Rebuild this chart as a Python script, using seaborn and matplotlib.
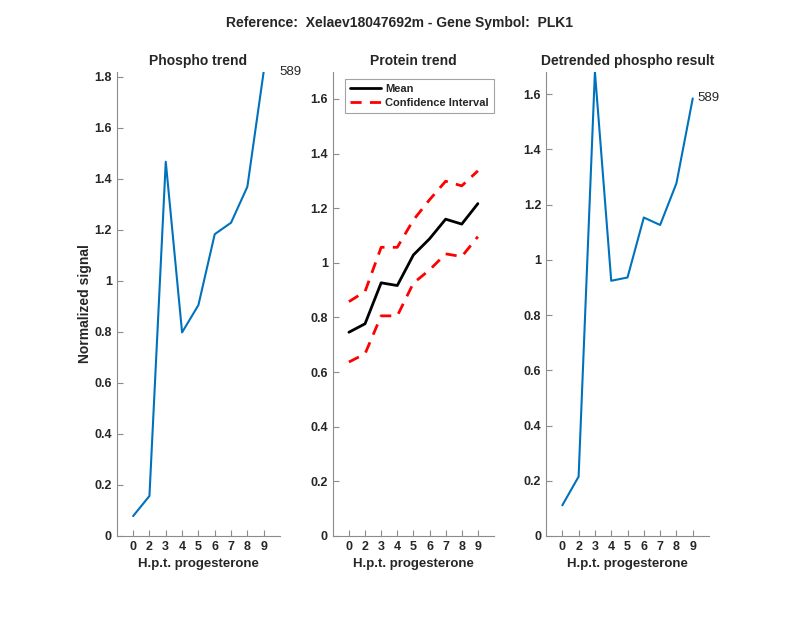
import matplotlib
matplotlib.use("Agg")
import matplotlib.pyplot as plt
import pandas as pd
import seaborn as sb

# data
hours = ["0", "2", "3", "4", "5", "6", "7", "8", "9"]
phospho = [0.078, 0.157, 1.467, 0.798, 0.905, 1.183, 1.228, 1.369, 1.82]
protein_mean = [0.746, 0.777, 0.927, 0.917, 1.029, 1.088, 1.160, 1.142, 1.217]
protein_upper = [0.858, 0.895, 1.057, 1.057, 1.157, 1.231, 1.299, 1.282, 1.337]
protein_lower = [0.637, 0.667, 0.806, 0.806, 0.926, 0.974, 1.033, 1.023, 1.096]
detrended = [0.111, 0.215, 1.681, 0.924, 0.936, 1.153, 1.126, 1.277, 1.584]
peptide_id = "589"

sb.set_style("white")
plt.rcParams['font.family'] = ['Liberation Sans', 'DejaVu Sans']
plt.rcParams['font.weight'] = 'bold'

pos = list(range(1, len(hours) + 1))
df = pd.DataFrame({'pos': pos, 'phospho': phospho, 'mean': protein_mean,
                   'upper': protein_upper, 'lower': protein_lower,
                   'detr': detrended})

blue = '#0072BD'
axcol = '#262626'

fig = plt.figure(figsize=(8, 6.18), dpi=100)
ax1 = fig.add_axes([0.146, 0.1327, 0.204, 0.7513])
ax2 = fig.add_axes([0.416, 0.1327, 0.2015, 0.7513])
ax3 = fig.add_axes([0.6825, 0.1327, 0.2038, 0.7513])


def style(ax, ylim, yticks):
    ax.set_xlim(0, 10)
    ax.set_ylim(*ylim)
    ax.set_xticks(pos)
    ax.set_xticklabels(hours)
    ax.set_yticks(yticks)
    ax.set_yticklabels(['%g' % t for t in yticks])
    for s in ['top', 'right']:
        ax.spines[s].set_visible(False)
    for s in ['left', 'bottom']:
        ax.spines[s].set_color('#8c8c8c')
        ax.spines[s].set_linewidth(0.8)
    ax.tick_params(direction='in', length=4, width=0.8, color='#8c8c8c',
                   labelsize=9, labelcolor=axcol, left=True, bottom=True)
    ax.set_xlabel('H.p.t. progesterone', fontsize=9.5, fontweight='bold', color=axcol)
    ax.set_ylabel('')


# panel 1
sb.lineplot(data=df, x='pos', y='phospho', ax=ax1, color=blue, linewidth=1.5)
style(ax1, (0, 1.82), [0, 0.2, 0.4, 0.6, 0.8, 1, 1.2, 1.4, 1.6, 1.8])
ax1.set_ylabel('Normalized signal', fontsize=10, fontweight='bold', color=axcol,
               labelpad=2)
ax1.set_title('Phospho trend', fontsize=10, fontweight='bold', pad=5)
ax1.text(pos[-1] + 0.95, phospho[-1], peptide_id, fontsize=9.5, fontweight='normal',
         va='center', ha='left')

# panel 2
sb.lineplot(data=df, x='pos', y='mean', ax=ax2, color='black', linewidth=2, label='Mean')
sb.lineplot(data=df, x='pos', y='upper', ax=ax2, color='red', linewidth=2,
            linestyle=(0, (4, 3)), label='Confidence Interval')
sb.lineplot(data=df, x='pos', y='lower', ax=ax2, color='red', linewidth=2,
            linestyle=(0, (4, 3)))
style(ax2, (0, 1.7), [0, 0.2, 0.4, 0.6, 0.8, 1, 1.2, 1.4, 1.6])
ax2.set_title('Protein trend', fontsize=10, fontweight='bold', pad=5)
leg = ax2.legend(loc='upper left', bbox_to_anchor=(0.075, 0.985), fontsize=8,
                 frameon=True, fancybox=False, handlelength=2.8, borderpad=0.45,
                 labelspacing=0.35, handletextpad=0.4, borderaxespad=0)
leg.get_frame().set_edgecolor('#8c8c8c')
leg.get_frame().set_linewidth(0.8)
for t in leg.get_texts():
    t.set_fontweight('bold')

# panel 3
sb.lineplot(data=df, x='pos', y='detr', ax=ax3, color=blue, linewidth=1.5)
style(ax3, (0, 1.681), [0, 0.2, 0.4, 0.6, 0.8, 1, 1.2, 1.4, 1.6])
ax3.set_title('Detrended phospho result', fontsize=10, fontweight='bold', pad=5)
ax3.text(pos[-1] + 0.3, detrended[-1], peptide_id, fontsize=9.5, fontweight='normal',
         va='center', ha='left')

fig.text(0.5, 0.962, 'Reference:  Xelaev18047692m - Gene Symbol:  PLK1',
         ha='center', va='center', fontsize=10, fontweight='bold')

fig.savefig('out.png', dpi=100)
